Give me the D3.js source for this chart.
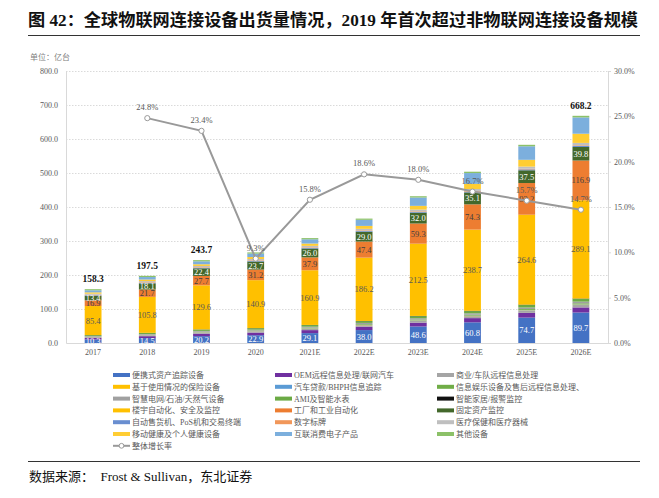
<!DOCTYPE html>
<html><head><meta charset="utf-8">
<script src="https://cdn.jsdelivr.net/npm/d3@7"></script>
<style>body{margin:0;background:#fff;} svg{display:block}</style>
</head><body>
<svg id="c" width="659" height="498"></svg>
<script>
// ---------- DATA ----------
const categories = ["2017","2018","2019","2020","2021E","2022E","2023E","2024E","2025E","2026E"];
const portableAsset   = [10.3,14.5,20.2,22.9,29.1,38.0,48.6,60.8,74.7,89.7];
const oemTelematics   = [4.8,5.6,7.2,7.7,8.8,9.8,11.3,12.4,13.9,15.0];
const fleetTelematics = [2.2,2.6,3.4,3.6,4.1,4.6,5.3,5.8,6.5,7.0];
const ubiInsurance    = [0.3,0.4,0.5,0.5,0.6,0.7,0.8,0.8,0.9,1.0];
const autoLoanTrack   = [0.3,0.4,0.5,0.5,0.6,0.7,0.8,0.8,0.9,1.0];
const infotainment    = [1.0,1.1,1.4,1.5,1.8,2.0,2.3,2.5,2.8,3.0];
const smartGrid       = [1.6,1.9,2.4,2.6,2.9,3.3,3.8,4.1,4.6,5.0];
const amiMeters       = [2.5,3.0,3.9,4.1,4.7,5.2,6.0,6.6,7.4,8.0];
const smartHome       = [0.3,0.4,0.5,0.5,0.5,0.5,0.7,1.0,1.0,1.0];
const buildingAuto    = [85.4,105.8,129.6,140.9,160.9,186.2,212.5,238.7,264.6,289.1];
const factoryAuto     = [16.9,21.7,27.7,31.2,37.9,47.4,59.3,74.3,93.2,116.9];
const fixedAsset      = [13.4,18.1,22.4,23.7,26.0,29.0,32.0,35.1,37.5,39.8];
const vendingPos      = [1.5,1.6,1.7,1.8,1.9,2.0,2.2,2.4,2.7,3.0];
const digitalSignage  = [1.5,1.6,1.6,1.7,1.7,1.8,1.8,1.9,1.9,2.0];
const healthcare      = [3.0,3.4,3.6,3.9,4.2,4.6,5.0,5.6,6.2,7.0];
const mobileHealth    = [4.0,4.6,5.0,5.8,6.8,8.6,11.0,15.2,20.0,27.0];
const consumerElec    = [6.0,7.3,8.6,10.0,12.5,17.9,24.5,31.8,39.8,48.0];
const otherDevices    = [3.3,3.5,3.5,3.5,3.5,3.6,3.8,4.0,4.3,4.7];
const growthRate      = [null,24.8,23.4,9.3,15.8,18.6,18.0,16.7,15.7,14.7];
const totalShown      = [true,true,true,false,false,false,false,false,false,true];
const leftTicks  = [0,100,200,300,400,500,600,700,800];
const rightTicks = [0,5,10,15,20,25,30];

const seriesNames = ["便携式资产追踪设备","OEM远程信息处理/联网汽车","商业/车队远程信息处理",
 "基于使用情况的保险设备","汽车贷款/BHPH信息追踪","信息娱乐设备及售后远程信息处理、",
 "智慧电网/石油/天然气设备","AMI及智能水表","智能家居/报警监控",
 "楼宇自动化、安全及监控","工厂和工业自动化","固定资产监控",
 "自动售货机、PoS机和交易终端","数字标牌","医疗保健和医疗器械",
 "移动健康及个人健康设备","互联消费电子产品","其他设备"];
const seriesValues = [portableAsset,oemTelematics,fleetTelematics,ubiInsurance,autoLoanTrack,infotainment,
 smartGrid,amiMeters,smartHome,buildingAuto,factoryAuto,fixedAsset,vendingPos,digitalSignage,healthcare,
 mobileHealth,consumerElec,otherDevices];
const lineName = "整体增长率";

// ---------- STYLE ----------
const colors = ["#4472C4","#7030A0","#A5A5A5","#FFC000","#5B9BD5","#70AD47",
 "#A0A0A0","#6BAA45","#111111","#FFC000","#ED7D31","#43682B",
 "#698ED0","#F1975A","#BFBFBF","#FFCD33","#7CAFDD","#8CC168"];
const labelColor = {0:"#ffffff",9:"#595959",10:"#404040",11:"#ffffff"};
const serif = "'Liberation Serif','Times New Roman','Noto Sans CJK SC',serif";
const cjk = "'Liberation Serif','Noto Sans CJK SC',sans-serif";

const svg = d3.select("#c");
const L = 66, R = 608, T = 71, B = 343;

// title
svg.append("text").attr("x",28).attr("y",26).attr("font-family",cjk).attr("font-weight","bold")
  .attr("font-size",16.5).attr("fill","#111").attr("textLength",610).attr("lengthAdjust","spacingAndGlyphs")
  .text("图 42：全球物联网连接设备出货量情况，2019 年首次超过非物联网连接设备规模");
svg.append("line").attr("x1",28).attr("x2",640).attr("y1",35.5).attr("y2",35.5).attr("stroke","#333").attr("stroke-width",1.2);
svg.append("text").attr("x",30).attr("y",60).attr("font-family",cjk).attr("font-size",8).attr("fill","#7f7f7f").text("单位：亿台");

// scales
const x = d3.scaleBand().domain(categories).range([L,R]).paddingInner(0.69).paddingOuter(0.345);
const y = d3.scaleLinear().domain([0,800]).range([B,T]);
const y2 = d3.scaleLinear().domain([0,30]).range([B,T]);

// grid
svg.append("g").selectAll("line").data(leftTicks.slice(1)).join("line")
  .attr("x1",L).attr("x2",R).attr("y1",d=>y(d)+0.5).attr("y2",d=>y(d)+0.5)
  .attr("stroke","#d0d0d0").attr("stroke-width",0.8).attr("stroke-dasharray","1.5,1.5");

// axes
const axL = svg.append("g").attr("transform",`translate(${L},0)`)
  .call(d3.axisLeft(y).tickValues(leftTicks).tickFormat(d=>d.toFixed(1)).tickSize(0).tickPadding(8));
const axR = svg.append("g").attr("transform",`translate(${R},0)`)
  .call(d3.axisRight(y2).tickValues(rightTicks).tickFormat(d=>d.toFixed(1)+"%").tickSize(3).tickPadding(3));
const axB = svg.append("g").attr("transform",`translate(0,${B})`)
  .call(d3.axisBottom(x).tickSize(0).tickPadding(6));
[axL,axR,axB].forEach(g=>{
  g.selectAll(".domain").attr("stroke","#d9d9d9").attr("stroke-width",1);
  g.selectAll(".tick line").attr("stroke","#d9d9d9");
  g.selectAll("text").attr("font-family",serif).attr("font-size",8).attr("fill","#595959");
});

// stacks
const rows = categories.map((c,i)=>{const o={cat:c}; seriesValues.forEach((s,k)=>o["s"+k]=s[i]); return o;});
const keys = seriesValues.map((s,k)=>"s"+k);
const stacked = d3.stack().keys(keys)(rows);
const bw = x.bandwidth();
const gBars = svg.append("g");
stacked.forEach((layer,k)=>{
  gBars.append("g").attr("fill",colors[k]).selectAll("rect").data(layer).join("rect")
    .attr("x",d=>x(d.data.cat)).attr("width",bw)
    .attr("y",d=>y(d[1])).attr("height",d=>Math.max(0,y(d[0])-y(d[1])));
});
// segment labels
[0,9,10,11].forEach(k=>{
  svg.append("g").selectAll("text").data(stacked[k]).join("text")
    .attr("x",d=>x(d.data.cat)+bw/2).attr("y",d=>(y(d[0])+y(d[1]))/2+3)
    .attr("text-anchor","middle").attr("font-family",serif).attr("font-size",8.5)
    .attr("fill",labelColor[k]).text(d=>d.data["s"+k].toFixed(1));
});
// totals
const topLayer = stacked[stacked.length-1];
svg.append("g").selectAll("text").data(topLayer.filter((d,i)=>totalShown[i])).join("text")
  .attr("x",d=>x(d.data.cat)+bw/2).attr("y",d=>y(d[1])-7)
  .attr("text-anchor","middle").attr("font-family",serif).attr("font-weight","bold")
  .attr("font-size",9.5).attr("fill","#111").text(d=>d[1].toFixed(1));

// growth line
const pts = categories.map((c,i)=>({c,v:growthRate[i]})).filter(d=>d.v!==null);
svg.append("path").datum(pts).attr("fill","none").attr("stroke","#999").attr("stroke-width",2)
  .attr("d",d3.line().x(d=>x(d.c)+bw/2).y(d=>y2(d.v)));
svg.append("g").selectAll("circle").data(pts).join("circle")
  .attr("cx",d=>x(d.c)+bw/2).attr("cy",d=>y2(d.v)).attr("r",2.6)
  .attr("fill","#fff").attr("stroke","#999").attr("stroke-width",1);
svg.append("g").selectAll("text").data(pts).join("text")
  .attr("x",d=>x(d.c)+bw/2).attr("y",d=>y2(d.v)-8)
  .attr("text-anchor","middle").attr("font-family",serif).attr("font-size",8.5)
  .attr("fill","#595959").text(d=>d.v.toFixed(1)+"%");

// legend
const colX = [113,275,437], rowY0 = 375, rowH = 11.8;
const lg = svg.append("g");
seriesNames.forEach((n,k)=>{
  const cx = colX[k%3], cy = rowY0 + Math.floor(k/3)*rowH;
  lg.append("rect").attr("x",cx).attr("y",cy-2).attr("width",17).attr("height",4).attr("fill",colors[k]);
  lg.append("text").attr("x",cx+19).attr("y",cy+3).attr("font-family",cjk).attr("font-size",8)
    .attr("fill","#595959").text(n);
});
{
  const cy = rowY0 + 6*rowH;
  lg.append("line").attr("x1",113).attr("x2",130).attr("y1",cy).attr("y2",cy).attr("stroke","#999").attr("stroke-width",2);
  lg.append("circle").attr("cx",121.5).attr("cy",cy).attr("r",2.4).attr("fill","#fff").attr("stroke","#999");
  lg.append("text").attr("x",132).attr("y",cy+3).attr("font-family",cjk).attr("font-size",8).attr("fill","#595959").text(lineName);
}

// source
svg.append("line").attr("x1",28).attr("x2",640).attr("y1",461.5).attr("y2",461.5).attr("stroke","#333").attr("stroke-width",1);
svg.append("text").attr("x",29).attr("y",481).attr("font-family",cjk).attr("font-size",13).attr("fill","#111")
  .attr("xml:space","preserve").text("数据来源：  Frost & Sullivan，东北证券");
</script>
</body></html>
